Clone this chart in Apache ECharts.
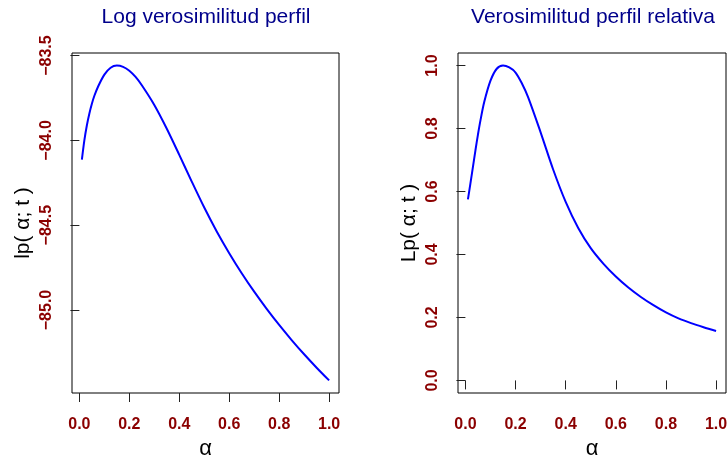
<!DOCTYPE html>
<html>
<head>
<meta charset="utf-8">
<script src="https://cdn.jsdelivr.net/npm/echarts@6/dist/echarts.min.js"></script>
<style>html,body{margin:0;padding:0;background:#fff}#c{width:728px;height:457px}</style>
</head>
<body>
<div id="c"></div>
<script>
const alpha = [0.01,0.02,0.03,0.04,0.05,0.06,0.075,0.1,0.125,0.15,0.175,0.2,0.225,0.25,0.3,0.35,0.4,0.45,0.5,0.55,0.6,0.65,0.7,0.75,0.8,0.85,0.9,0.95,1.0];
const logProfile = [-84.114,-83.999,-83.911,-83.841,-83.784,-83.737,-83.682,-83.612,-83.5715,-83.559,-83.5665,-83.589,-83.626,-83.675,-83.791,-83.931,-84.085,-84.243,-84.396,-84.537,-84.665,-84.783,-84.892,-84.993,-85.088,-85.177,-85.261,-85.340,-85.415];
const relProfile = [0.575,0.626,0.678,0.731,0.781,0.826,0.884,0.952,0.990,1.0,0.994,0.978,0.944,0.900,0.788,0.670,0.567,0.484,0.420,0.371,0.330,0.295,0.265,0.239,0.216,0.197,0.182,0.169,0.157];
const xTicks = [0,0.2,0.4,0.6,0.8,1.0];
const yTicksLeft = [-85.0,-84.5,-84.0,-83.5];
const yTicksRight = [0,0.2,0.4,0.6,0.8,1.0];
const titles = ['Log verosimilitud perfil','Verosimilitud perfil relativa'];
const yNames = ['lp( \u03b1; t )','Lp( \u03b1; t )'];
const xName = '\u03b1';

const FONT = '"Liberation Sans", Arial, Helvetica, sans-serif';
const fmt = v => (v < 0 ? '\u2212' : '') + Math.abs(v).toFixed(1);

function pad(vals, f) {
  const lo = Math.min(...vals), hi = Math.max(...vals), d = (hi - lo) * f;
  return [lo - d, hi + d];
}
const xr = pad(alpha, 0.04);
const yrL = pad(logProfile, 0.04);
const yrR = [-0.04, 1.04];

function xAx(i) {
  return {
    type: 'value', gridIndex: i, min: xr[0], max: xr[1],
    axisLine: {show: false}, splitLine: {show: false},
    axisTick: {show: true, customValues: xTicks, length: 9, lineStyle: {color: '#222', width: 1}},
    axisLabel: {customValues: xTicks, formatter: fmt, margin: 24, color: '#8B0000', fontWeight: 'bold', fontSize: 16, fontFamily: FONT},
    name: xName, nameLocation: 'middle', nameGap: 40,
    nameTextStyle: {fontSize: 22, color: '#000', fontFamily: FONT}
  };
}
function yAx(i, r, ticks) {
  return {
    type: 'value', gridIndex: i, min: r[0], max: r[1],
    axisLine: {show: false}, splitLine: {show: false},
    axisTick: {show: true, customValues: ticks, length: 9, lineStyle: {color: '#222', width: 1}},
    axisLabel: {customValues: ticks, formatter: fmt, rotate: 90, margin: 17, color: '#8B0000', fontWeight: 'bold', fontSize: 16, fontFamily: FONT},
    name: yNames[i], nameLocation: 'middle', nameGap: 38,
    nameTextStyle: {fontSize: 21, color: '#000', fontFamily: FONT}
  };
}

const chart = echarts.init(document.getElementById('c'), null, {renderer: 'canvas'});
chart.setOption({
  animation: false,
  backgroundColor: '#fff',
  title: [
    {text: titles[0], left: 201, top: 2, textAlign: 'center', textStyle: {fontSize: 21, fontWeight: 'normal', color: '#00008B', fontFamily: FONT}},
    {text: titles[1], left: 588, top: 2, textAlign: 'center', textStyle: {fontSize: 21, fontWeight: 'normal', color: '#00008B', fontFamily: FONT}}
  ],
  grid: [
    {left: 72, top: 53, width: 267, height: 340, show: true, borderColor: '#000', borderWidth: 1, backgroundColor: 'transparent', containLabel: false, outerBoundsMode: 'none'},
    {left: 458, top: 53, width: 268, height: 340, show: true, borderColor: '#000', borderWidth: 1, backgroundColor: 'transparent', containLabel: false, outerBoundsMode: 'none'}
  ],
  xAxis: [xAx(0), xAx(1)],
  yAxis: [yAx(0, yrL, yTicksLeft), yAx(1, yrR, yTicksRight)],
  series: [
    {type: 'line', xAxisIndex: 0, yAxisIndex: 0, data: alpha.map((a, k) => [a, logProfile[k]]), showSymbol: false, smooth: 0.3, lineStyle: {color: '#0000FF', width: 2}},
    {type: 'line', xAxisIndex: 1, yAxisIndex: 1, data: alpha.map((a, k) => [a, relProfile[k]]), showSymbol: false, smooth: 0.3, lineStyle: {color: '#0000FF', width: 2}}
  ]
});
</script>
</body>
</html>
